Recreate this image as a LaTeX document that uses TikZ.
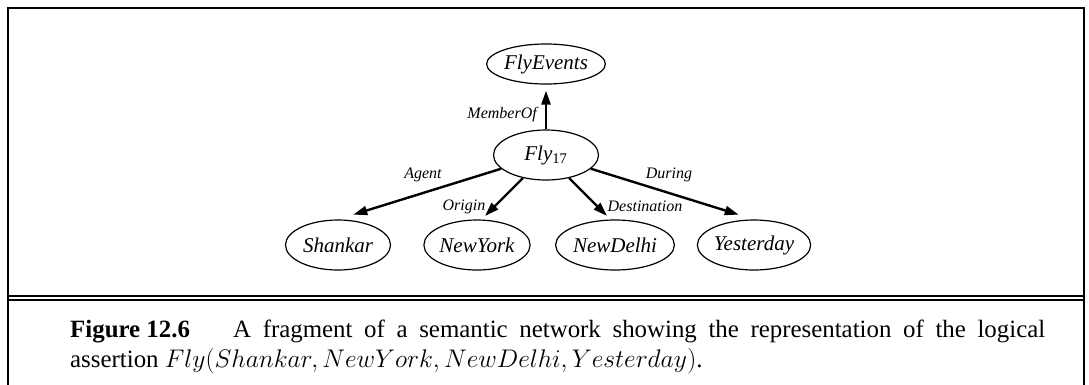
\documentclass[tikz,border=0pt]{standalone}
\usepackage[no-math]{fontspec}
\setmainfont{Liberation Serif}
\usetikzlibrary{shapes.geometric,arrows.meta}
\begin{document}
\begin{tikzpicture}[x=1pt,y=-1pt,
  ent/.style={ellipse,draw,line width=1.2pt,minimum width=105pt,minimum height=50pt,inner sep=0pt,font=\fontsize{21}{24}\selectfont\itshape},
  lbl/.style={font=\fontsize{16}{19}\selectfont\itshape,inner sep=0pt},
  arr/.style={line width=2.4pt,-{Triangle[length=14pt,width=9pt]}},
  frameline/.style={line width=2.5pt},
  captxt/.style={anchor=base west,inner sep=0pt,font=\fontsize{24.88}{29}\selectfont}]
\useasboundingbox (0,0) rectangle (1089,384);
% frame
\draw[frameline] (8,397) -- (8,8) -- (1084,8) -- (1084,397);
\draw[line width=2pt] (8,296) -- (1084,296);
\draw[line width=2pt] (8,300) -- (1084,300);
% nodes
\node[ent,minimum height=40pt] (ev) at (546,64) {FlyEvents};
\node[ent] (fly) at (546,155) {Fly\textsubscript{\upshape 17}};
\node[ent] (sh) at (338,245) {Shankar};
\node[ent] (ny) at (477,245) {NewYork};
\node[ent] (nd) at (615,245) {NewDelhi};
\node[ent] (ye) at (754,245) {Yesterday};
% edges
\draw[arr,shorten >=6pt] (fly.north) -- (ev.south);
\draw[arr,shorten >=16pt] (fly.197) -- (sh.north);
\draw[arr,shorten >=5pt] (fly.225) -- (ny.80);
\draw[arr,shorten >=5pt] (fly.315) -- (nd.100);
\draw[arr,shorten >=16pt] (fly.343) -- (ye.north);
% labels
\node[lbl,anchor=east] (lm) at (537,115) {MemberOf};
\node[lbl] (la) at (423,175) {Agent};
\node[lbl] (lo) at (464,207) {Origin};
\node[lbl] (ld) at (645,206) {Destination};
\node[lbl] (lu) at (669,175) {During};
% caption
\node[captxt] (c1a) at (70,337) {\bfseries Figure 12.6};
\node[captxt] (c1b) at (233,337) {\makebox[812pt][s]{A fragment of a semantic network showing the representation of the logical}};
\node[captxt] (c2) at (70,367) {assertion \scalebox{1.025}{$Fly(Shankar, NewYork, NewDelhi, Yesterday)$}.};
\end{tikzpicture}
\end{document}
